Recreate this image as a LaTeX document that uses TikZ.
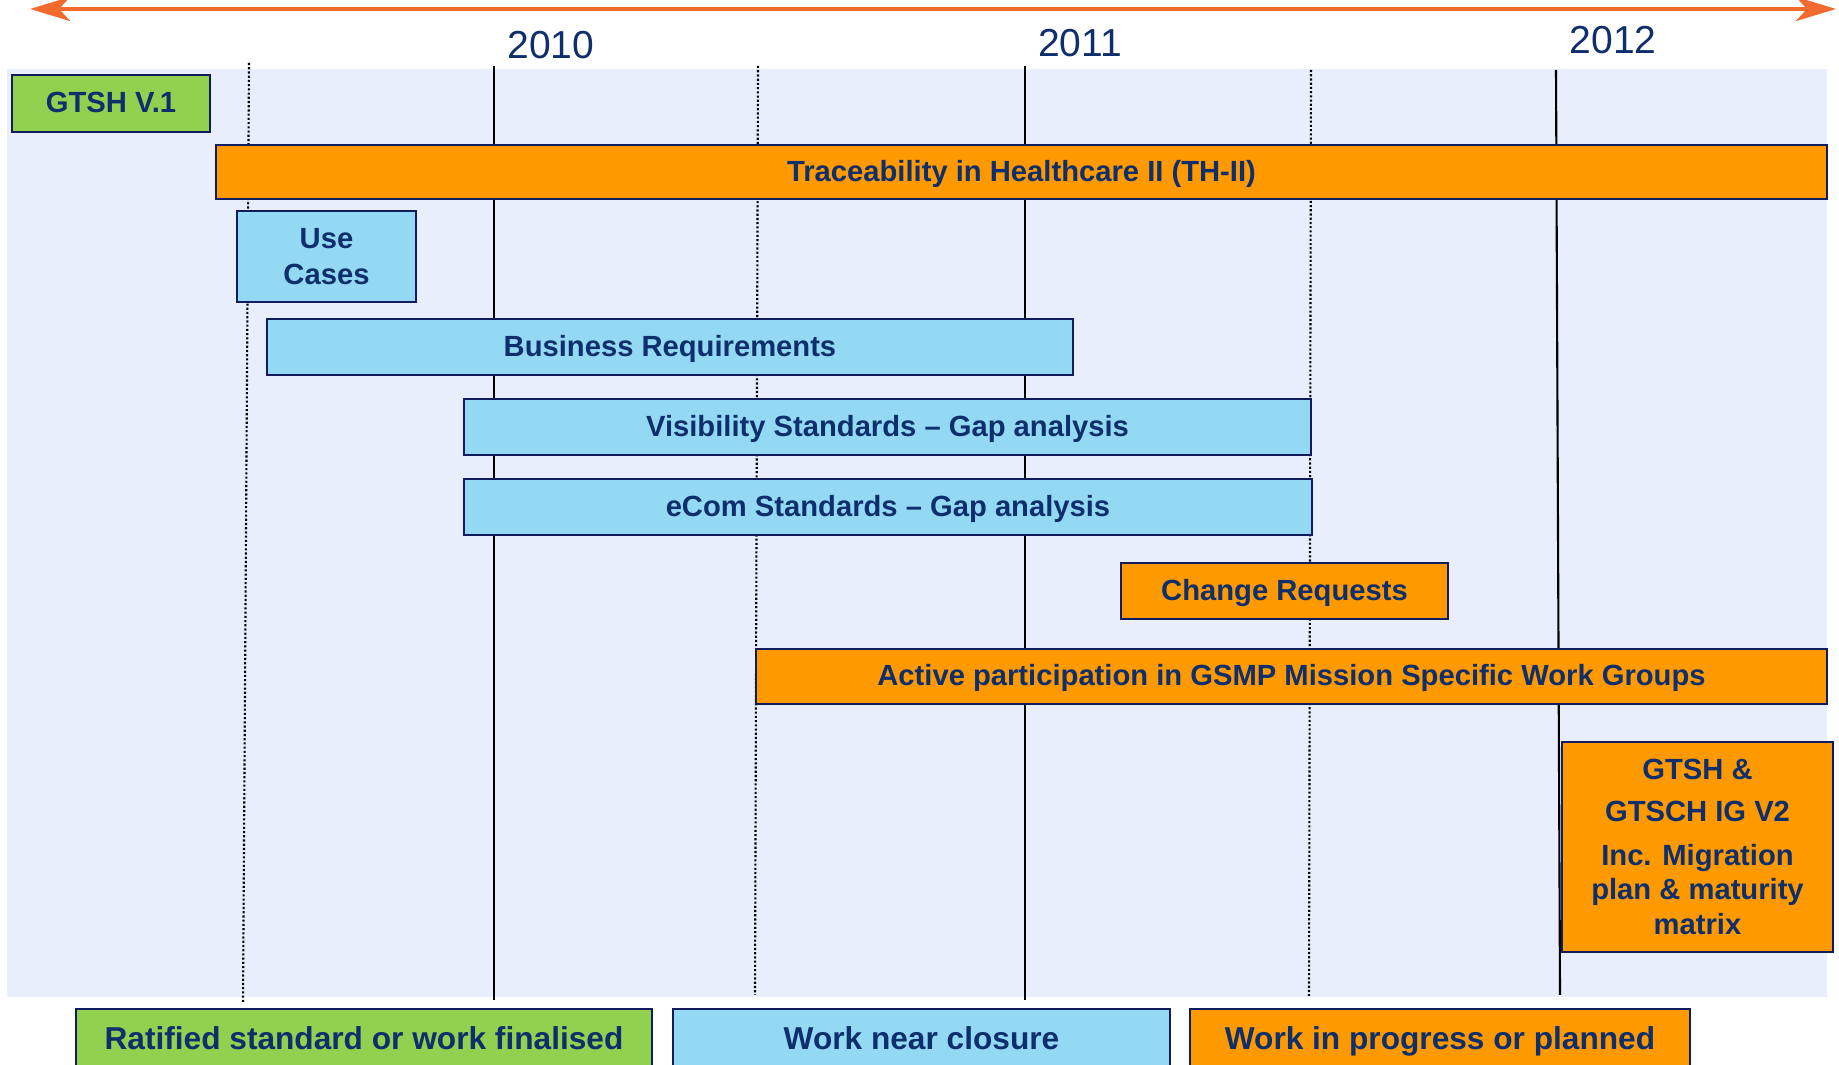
\documentclass[tikz,border=0pt]{standalone}
\usepackage{fontspec}
\setmainfont{Liberation Sans}
\usetikzlibrary{arrows.meta}

\definecolor{timeorange}{HTML}{F26A2E}
\definecolor{gridbg}{HTML}{E8EEFB}
\definecolor{framenavy}{HTML}{101C5E}
\definecolor{textnavy}{HTML}{0E2F6C}
\definecolor{donegreen}{HTML}{92D050}
\definecolor{nearblue}{HTML}{93D9F4}
\definecolor{wiporange}{HTML}{FF9900}

\begin{document}
\begin{tikzpicture}[x=0.01cm, y=-0.01cm,
	taskbox/.style={draw=framenavy, line width=0.7pt, inner sep=0pt, align=center,
		text=textnavy, text height=1.6ex, text depth=0.6ex,
		font=\fontsize{8.3}{10.2}\selectfont\bfseries},
	multiline/.style={text height=, text depth=},
	boxsize/.style 2 args={minimum width=#1*0.01cm, minimum height=#2*0.01cm},
	donebox/.style={taskbox, fill=donegreen},
	nearbox/.style={taskbox, fill=nearblue},
	wipbox/.style={taskbox, fill=wiporange},
	legendbox/.style={font=\fontsize{9}{11}\selectfont\bfseries},
	yearlabel/.style={text=textnavy, font=\fontsize{11.1}{13}\selectfont},
	milestone/.style={black, line width=0.6pt},
	quarter/.style={black, line width=0.6pt, dash pattern=on 0.6pt off 0.6pt}]

	% ---- page

	\clip (0,0) rectangle (1839,1065);

	% ---- time arrow

	\coordinate (past) at (30,9);
	\coordinate (future) at (1836,9);
	\draw[timeorange, line width=1.4pt,
		{Stealth[length=4mm,width=2.4mm,inset=1.1mm]}-{Stealth[length=4mm,width=2.4mm,inset=1.1mm]}]
		(past) -- (future);

	% ---- years

	\node[yearlabel] (y2010) at (551,45) {2010};
	\node[yearlabel] (y2011) at (1080,43) {2011};
	\node[yearlabel] (y2012) at (1613,40) {2012};

	% ---- background

	\fill[gridbg] (7,69) rectangle (1827,997);

	% ---- year lines

	\foreach \xt/\yt/\xb/\yb in {494/66/494/1000, 1025/66/1025/1000, 1556/70/1560/995} {
		\draw[milestone] (\xt,\yt) -- (\xb,\yb);
	}

	% ---- half year lines

	\foreach \xt/\yt/\xb/\yb in {249/63/243/1002, 758/66/755/995, 1311/70/1309/996} {
		\draw[quarter] (\xt,\yt) -- (\xb,\yb);
	}

	% ---- work items

	\node[donebox, boxsize={198}{57}] (gtshone) at (111,103.5) {GTSH V.1};
	\node[wipbox, boxsize={1611}{54}] (thii) at (1021.5,172) {Traceability in Healthcare II (TH-II)};
	\node[nearbox, multiline, boxsize={179}{91}] (usecases) at (326.5,256.5) {Use\\Cases};
	\node[nearbox, boxsize={806}{56}] (busreq) at (670,347) {Business Requirements};
	\node[nearbox, boxsize={847}{56}] (visgap) at (887.5,427) {Visibility Standards -- Gap analysis};
	\node[nearbox, boxsize={848}{56}] (ecomgap) at (888,507) {eCom Standards -- Gap analysis};
	\node[wipbox, boxsize={327}{56}] (changereq) at (1284.5,591) {Change Requests};
	\node[wipbox, boxsize={1071}{55}] (gsmp) at (1291.5,676.5) {Active participation in GSMP Mission Specific Work Groups};
	\node[wipbox, multiline, boxsize={271}{210}, font=\fontsize{8.3}{9.9}\selectfont\bfseries] (gtshtwo) at (1697.5,847)
		{GTSH \&\\[2pt] GTSCH IG V2\\[2.6pt] Inc. Migration\\ plan \& maturity\\ matrix};

	% ---- legend

	\node[donebox, legendbox, boxsize={576}{62}] (legdone) at (364,1040) {Ratified standard or work finalised};
	\node[nearbox, legendbox, boxsize={497}{62}] (legnear) at (921.5,1040) {Work near closure};
	\node[wipbox, legendbox, boxsize={500}{62}] (legwip) at (1440,1040) {Work in progress or planned};

\end{tikzpicture}
\end{document}
